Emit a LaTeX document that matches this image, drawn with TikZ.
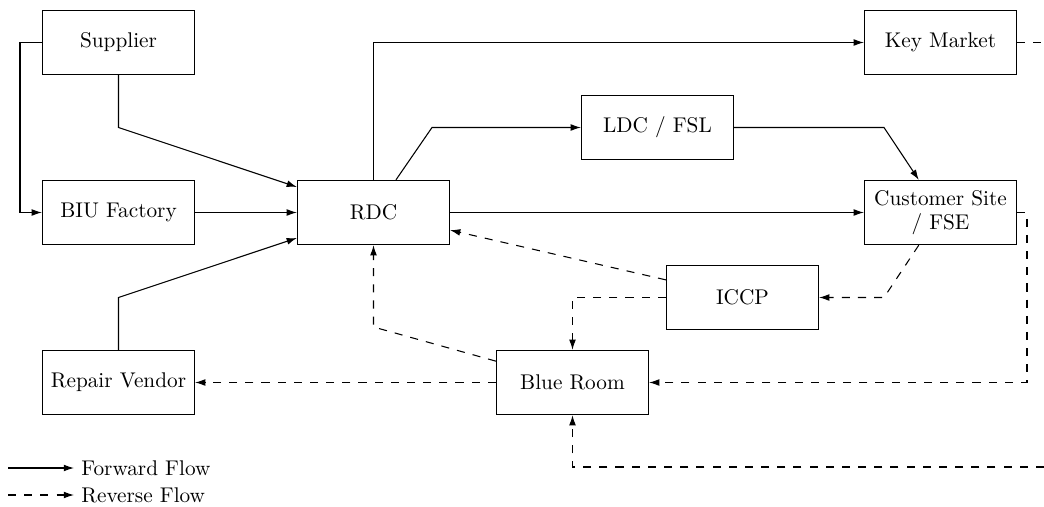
\documentclass[tikz,border=0pt]{standalone}
\usetikzlibrary{arrows.meta}
\begin{document}
\begin{tikzpicture}[x=0.47pt,y=-0.47pt,
  box/.style={draw,line width=0.5pt,minimum width=71.5pt,minimum height=30.2pt,inner sep=2pt,align=center},
  fwd/.style={line width=0.5pt,-{Latex[length=4.8pt,width=3.2pt]}},
  rev/.style={line width=0.5pt,dash pattern=on 3.8pt off 3.8pt,-{Latex[length=4.8pt,width=3.2pt]}},
  revline/.style={line width=0.5pt,dash pattern=on 3.8pt off 3.8pt}]
\useasboundingbox (0,0) rectangle (1044,507);
% nodes
\node[box] (sup) at (118.5,42.5) {Supplier};
\node[box] (biu) at (118.5,212.5) {BIU Factory};
\node[box] (rep) at (118.5,382.5) {Repair Vendor};
\node[box] (rdc) at (373.5,212.5) {RDC};
\node[box] (ldc) at (657.5,127.5) {LDC / FSL};
\node[box] (key) at (940.5,42.5) {Key Market};
\node[box] (cust) at (940.5,212.5) {Customer Site\\[-1pt] / FSE};
\node[box] (iccp) at (742.5,297.5) {ICCP};
\node[box] (blue) at (572.5,382.5) {Blue Room};
% helper coordinates
\coordinate (c1) at (20,42.5);
\coordinate (c2) at (118.5,127.5);
\coordinate (c3) at (118.5,297.5);
\coordinate (c4) at (432,127.5);
\coordinate (c5) at (884,127.5);
\coordinate (c6) at (884,297.5);
\coordinate (c7) at (373.5,327);
\coordinate (c8) at (1027,212.5);
\coordinate (c9) at (1027,382.5);
\coordinate (kmend) at (1044,42.5);
\coordinate (bottomend) at (1044,467);
\coordinate (c10) at (572.5,467);
% forward flows
\draw[fwd] (sup.west) -- (c1) |- (biu.west);
\draw[fwd] (sup.south) -- (c2) -- (rdc);
\draw[fwd] (biu) -- (rdc);
\draw[fwd] (rep.north) -- (c3) -- (rdc);
\draw[fwd] (rdc.north) |- (key.west);
\draw[fwd] (rdc) -- (c4) -- (ldc.west);
\draw[fwd] (ldc.east) -- (c5) -- (cust);
\draw[fwd] (rdc) -- (cust);
% reverse flows
\draw[revline] (key.east) -- (kmend);
\draw[rev] (cust.east) -- (c8) -- (c9) -- (blue.east);
\draw[rev] (cust) -- (c6) -- (iccp.east);
\draw[rev] (iccp) -- (rdc);
\draw[rev] (iccp.west) -| (blue.north);
\draw[rev] (blue) -- (c7) -- (rdc.south);
\draw[rev] (blue.west) -- (rep.east);
\draw[rev] (bottomend) -- (c10) -- (blue.south);
% legend
\coordinate (la1) at (8,468);
\coordinate (la2) at (74,468);
\coordinate (lb1) at (8,495);
\coordinate (lb2) at (74,495);
\draw[fwd] (la1) -- (la2);
\draw[rev] (lb1) -- (lb2);
\node[anchor=west,inner sep=0pt] (lfwd) at (81,468) {Forward Flow};
\node[anchor=west,inner sep=0pt] (lrev) at (81,495) {Reverse Flow};
\end{tikzpicture}
\end{document}
